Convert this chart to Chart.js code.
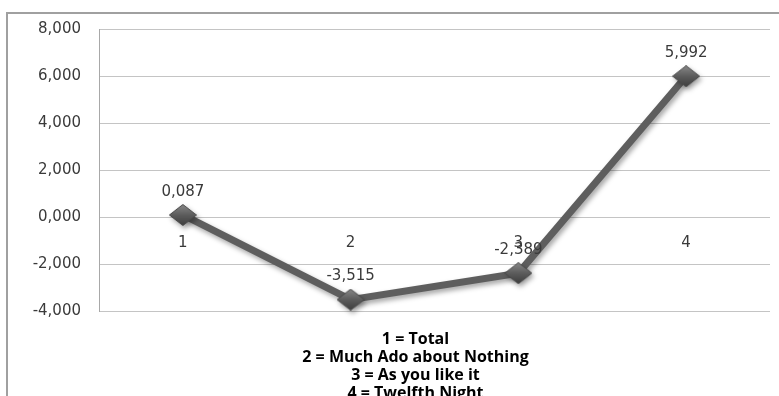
<!DOCTYPE html>
<html>
<head>
<meta charset="utf-8">
<script src="https://cdn.jsdelivr.net/npm/chart.js@4/dist/chart.umd.min.js"></script>
<style>
  html, body { margin: 0; padding: 0; background: #ffffff; }
  #wrap { width: 779px; height: 396px; overflow: hidden; }
</style>
</head>
<body>
<div id="wrap"><canvas id="c" width="779" height="396"></canvas></div>
<script>
// Series: one value per category (decimal comma on display)
const categories = ['1', '2', '3', '4'];
const values = [0.087, -3.515, -2.389, 5.992];
const yMin = -4, yMax = 8, yStep = 2;
const keyLines = [
  '1 = Total',
  '2 = Much Ado about Nothing',
  '3 = As you like it',
  '4 = Twelfth Night'
];

const fmt = v => Number(v).toFixed(3).replace('.', ',');
const TEXT = '#3a3a3a';
const TICK_FONT = { family: 'DejaVu Sans', size: 15 };

// Diamond marker with a soft top-to-bottom shading
function makeDiamond(w, h) {
  const c = document.createElement('canvas');
  c.width = w; c.height = h;
  const g = c.getContext('2d');
  const grad = g.createLinearGradient(0, 0, 0, h);
  grad.addColorStop(0, '#8a8a8a');
  grad.addColorStop(0.5, '#5c5c5c');
  grad.addColorStop(1, '#3c3c3c');
  g.beginPath();
  g.moveTo(w / 2, 0.5);
  g.lineTo(w - 0.5, h / 2);
  g.lineTo(w / 2, h - 0.5);
  g.lineTo(0.5, h / 2);
  g.closePath();
  g.fillStyle = grad;
  g.fill();
  g.strokeStyle = '#4a4a4a';
  g.lineWidth = 1;
  g.stroke();
  return c;
}
const diamond = makeDiamond(28, 22);

// Outer frame (left and top edges visible)
const framePlugin = {
  id: 'frame',
  beforeDraw(chart) {
    const ctx = chart.ctx;
    ctx.save();
    ctx.fillStyle = '#ffffff';
    ctx.fillRect(0, 0, chart.width, chart.height);
    ctx.strokeStyle = '#a0a0a0';
    ctx.lineWidth = 2;
    ctx.beginPath();
    ctx.moveTo(7, chart.height + 2);
    ctx.lineTo(7, 13);
    ctx.lineTo(chart.width + 2, 13);
    ctx.stroke();
    ctx.restore();
  }
};

// Drop shadow under the line and markers
const shadowPlugin = {
  id: 'shadow',
  beforeDatasetsDraw(chart) {
    const ctx = chart.ctx;
    ctx.save();
    ctx.shadowColor = 'rgba(0,0,0,0.35)';
    ctx.shadowBlur = 5;
    ctx.shadowOffsetX = 2;
    ctx.shadowOffsetY = 3;
  },
  afterDatasetsDraw(chart) {
    chart.ctx.restore();
  }
};

// Value labels above each point, plus the category key below the plot
const labelPlugin = {
  id: 'labels',
  afterDraw(chart) {
    const ctx = chart.ctx;
    const meta = chart.getDatasetMeta(0);
    ctx.save();
    ctx.font = `${TICK_FONT.size}px ${TICK_FONT.family}`;
    ctx.fillStyle = TEXT;
    ctx.textAlign = 'center';
    ctx.textBaseline = 'middle';
    meta.data.forEach((pt, i) => {
      ctx.fillText(fmt(values[i]), pt.x, pt.y - 23);
    });

    const area = chart.chartArea;
    const cx = (area.left + area.right) / 2 - 19;
    ctx.font = 'bold 16px "Open Sans"';
    ctx.fillStyle = '#000000';
    keyLines.forEach((line, i) => {
      ctx.fillText(line, cx, area.bottom + 28 + i * 18);
    });
    ctx.restore();
  }
};

new Chart(document.getElementById('c'), {
  type: 'line',
  data: {
    labels: categories,
    datasets: [{
      data: values,
      borderColor: '#5e5e5e',
      borderWidth: 7,
      pointStyle: diamond,
      pointRadius: 12,
      pointHoverRadius: 12,
      tension: 0,
      fill: false,
      clip: false
    }]
  },
  options: {
    responsive: false,
    animation: false,
    events: [],
    layout: { autoPadding: false, padding: { left: 0, top: 29, right: 9, bottom: 85 } },
    plugins: {
      legend: { display: false },
      tooltip: { enabled: false },
      title: { display: false }
    },
    scales: {
      x: {
        position: { y: 0 },
        offset: true,
        grid: { display: false, drawTicks: false },
        border: { display: false },
        ticks: { color: TEXT, font: TICK_FONT, padding: 17, maxRotation: 0 }
      },
      y: {
        min: yMin,
        max: yMax,
        afterFit(scale) { scale.width = 99; },
        grid: { color: '#c4c4c4', lineWidth: 1, drawTicks: false },
        border: { display: true, color: '#a8a8a8', width: 1 },
        ticks: {
          stepSize: yStep,
          color: TEXT,
          font: TICK_FONT,
          padding: 18,
          callback: v => fmt(v)
        }
      }
    }
  },
  plugins: [framePlugin, shadowPlugin, labelPlugin]
});
</script>
</body>
</html>
